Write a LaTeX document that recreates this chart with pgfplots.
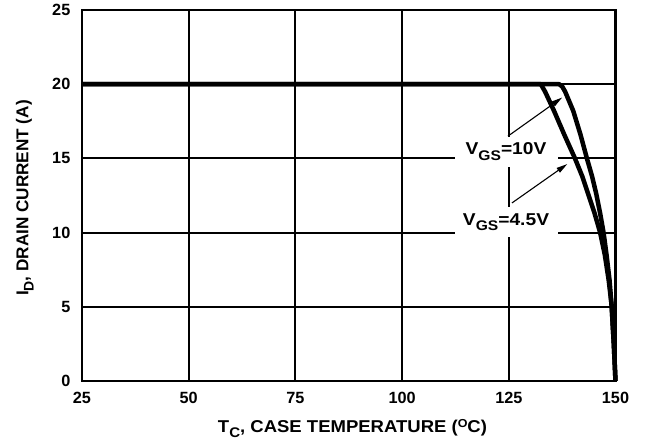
\documentclass[border=0pt]{standalone}
\usepackage{fontspec}
\setmainfont{Liberation Sans}
\newfontfamily\widefont{Liberation Sans}[FakeStretch=1.12]
\newfontfamily\xwidefont{Liberation Sans}[FakeStretch=1.08]
\usepackage{pgfplots}
\pgfplotsset{compat=1.18}
\usetikzlibrary{arrows.meta}
\newcommand\fs{\fontsize{16.3}{18}\selectfont\bfseries}
\newcommand\lfs{\fontsize{17.2}{19}\selectfont\bfseries}
\newcommand\sub[1]{\raisebox{-5.3bp}{\fontsize{14}{14}\selectfont\bfseries #1}}
\newcommand\sups[1]{\raisebox{4.3bp}{\fontsize{11.6}{11.6}\selectfont\bfseries #1}}

\begin{document}
\begin{tikzpicture}
\useasboundingbox (-82bp,-58bp) rectangle (565bp,381bp);
\begin{axis}[
  scale only axis, width=533.5bp, height=371bp,
  xmin=25, xmax=150, ymin=0, ymax=25,
  xtick={25,50,75,100,125,150}, ytick={0,5,10,15,20,25},
  grid=major, major grid style={black, line width=2bp},
  axis line style={line width=2.3bp},
  major tick length=0pt,
  tick label style={font=\fs, inner sep=0pt},
  /pgf/number format/assume math mode=true,
  xticklabel style={anchor=north, yshift=-11bp},
  yticklabel style={anchor=east, xshift=-11.5bp},
  xlabel={\xwidefont T\sub{C}, CASE TEMPERATURE (\sups{O}C)},
  ylabel={I\sub{D}, DRAIN CURRENT (A)},
  label style={font=\lfs, inner sep=0pt},
  xlabel style={at={(axis description cs:0.5,0)}, anchor=base, xshift=3.75bp, yshift=-51bp},
  ylabel style={at={(axis description cs:-0.1007,0.493)}, anchor=base},
  clip=false,
]
\node[fill=white, minimum width=103bp, minimum height=30bp, inner sep=0pt, font=\lfs\widefont] at (axis cs:124.35,15.45) {V\sub{GS}=10V};
\node[fill=white, minimum width=103bp, minimum height=30bp, inner sep=0pt, font=\lfs\widefont] at (axis cs:124.35,10.71) {V\sub{GS}=4.5V};
\draw[line width=1.1bp, -{Triangle[length=11bp,width=5.5bp]}] (axis cs:124.8,16.5) -- (axis cs:137.5,19.1);
\draw[line width=1.1bp, -{Triangle[length=11bp,width=5.5bp]}] (axis cs:125.75,12.0) -- (axis cs:138.7,14.62);
% VGS = 4.5 V
\addplot[black, line width=4.5bp, line join=round] coordinates {
 (25,20) (132.5,20) (133.5,19.5) (135.6,18.2) (138,16.6) (140.5,15.0) (142.2,13.8)
 (143.6,12.6) (145.1,11.3) (146.4,10) (147.5,8.5) (148.4,6.8) (149.1,5.1) (149.6,2.5) (150,0)
};
% VGS = 10 V
\addplot[black, line width=4.5bp, line join=round] coordinates {
 (25,20) (136.8,20) (137.5,19.85) (138.2,19.5) (140.1,18.2) (141.8,16.6) (143.3,15.0)
 (144.5,13.8) (145.5,12.6) (146.4,11.3) (147.2,10) (147.9,8.5) (148.6,6.8) (149.1,5.0) (149.6,2.5) (150,0)
};
\end{axis}
\end{tikzpicture}
\end{document}
